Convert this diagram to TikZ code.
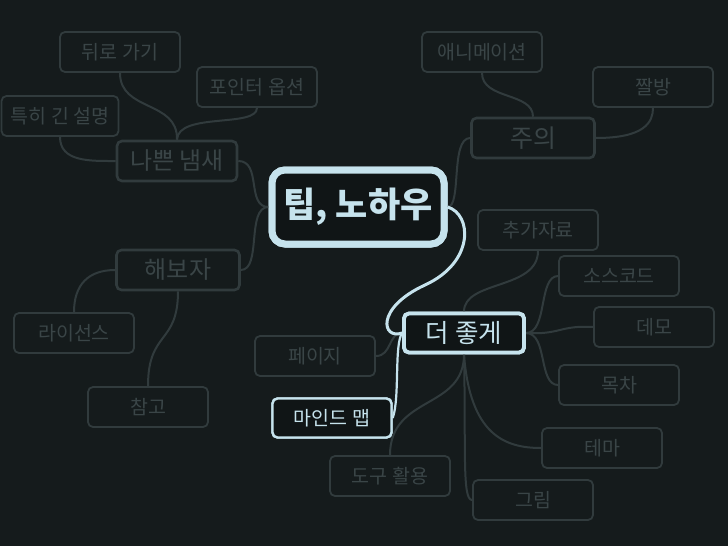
\documentclass[tikz,border=0pt]{standalone}
\usepackage{fontspec}
\setmainfont{Noto Sans CJK KR}
\definecolor{bg}{HTML}{151B1C}
\definecolor{dimline}{HTML}{313B3D}
\definecolor{dimtext}{HTML}{3A4547}
\definecolor{lite}{HTML}{C6E3ED}
\definecolor{corefill}{HTML}{101516}
\tikzset{
  leaf/.style={draw=dimline, line width=1.8pt, rounded corners=5pt, text=dimtext,
    minimum width=120pt, minimum height=40pt, inner sep=0pt, font=\fontsize{19.5}{21}\selectfont},
  mid/.style={draw=dimline, line width=2.6pt, rounded corners=5pt, text=dimtext,
    minimum width=120pt, minimum height=40pt, inner sep=0pt, font=\fontsize{24}{26}\selectfont},
  core/.style={draw=lite, fill=corefill, line width=7pt, rounded corners=13pt, text=lite,
    minimum width=172pt, minimum height=74pt, inner sep=0pt, font=\fontsize{35}{38}\selectfont\bfseries},
  better/.style={draw=lite, fill=corefill, line width=3.8pt, rounded corners=5pt, text=lite,
    minimum width=120pt, minimum height=39pt, inner sep=0pt, font=\fontsize{25.5}{27}\selectfont},
  litleaf/.style={draw=lite, fill=corefill, line width=2.4pt, rounded corners=5pt, text=lite,
    minimum width=119pt, minimum height=39pt, inner sep=0pt, font=\fontsize{19.5}{21}\selectfont},
  conn/.style={draw=dimline, line width=2pt},
  litconn/.style={draw=lite, line width=3pt},
  litconnthin/.style={draw=lite, line width=2.2pt}
}
\begin{document}
\begin{tikzpicture}[x=1pt, y=-1pt]
\fill[bg] (0,0) rectangle (728,546);
\useasboundingbox (0,0) rectangle (728,546);
% nodes
\node[leaf] (back) at (120,52) {뒤로 가기};
\node[leaf] (ptr) at (257,87) {포인터 옵션};
\node[leaf, minimum width=117pt] (long) at (60,116) {특히 긴 설명};
\node[mid] (nb) at (177,161) {나쁜 냄새};
\node[mid, minimum width=123pt] (hb) at (178,270) {해보자};
\node[leaf] (lic) at (74,333) {라이선스};
\node[leaf] (ref) at (148,407) {참고};
\node[leaf] (ani) at (482,52) {애니메이션};
\node[leaf] (jj) at (653,87) {짤방};
\node[mid, minimum width=123pt, font=\fontsize{25}{27}\selectfont] (ju) at (533,138) {주의};
\node[leaf] (add) at (538,230) {추가자료};
\node[leaf] (src) at (619,276) {소스코드};
\node[leaf] (demo) at (654,327) {데모};
\node[leaf] (page) at (315,356) {페이지};
\node[leaf] (tool) at (390,476) {도구 활용};
\node[leaf] (toc) at (619,385) {목차};
\node[leaf] (theme) at (602,448) {테마};
\node[leaf] (fig) at (533,500) {그림};
% dim connectors
\draw[conn] (back.south) .. controls (120,112) and (178,100) .. (nb.north);
\draw[conn] (ptr.south) .. controls (257,128) and (178,112) .. (nb.north);
\draw[conn] (long.south) .. controls (60,162) and (90,161) .. (nb.west);
\draw[conn] (hb.west) .. controls (88,270) and (74,285) .. (lic.north);
\draw[conn] (hb.south) .. controls (178,345) and (148,330) .. (ref.north);
\draw[conn] (ju.north) .. controls (533,92) and (482,100) .. (ani.south);
\draw[conn] (ju.east) .. controls (645,138) and (653,122) .. (jj.south);
% core and main nodes
\node[core] (tip) at (358,207) {팁, 노하우};
\node[better] (bt) at (464,333) {더 좋게};
\node[litleaf] (mind) at (332,418) {마인드 맵};
\draw[conn] (nb.east) .. controls (262,161) and (246,207) .. (tip.west);
\draw[conn] (hb.east) .. controls (262,270) and (246,207) .. (tip.west);
\draw[conn] (tip.east) .. controls (462,207) and (450,138) .. (ju.west);
\draw[conn] (bt.north) .. controls (464,280) and (538,290) .. (add.south);
\draw[conn] (bt.east) .. controls (548,333) and (538,276) .. (src.west);
\draw[conn] (bt.east) .. controls (560,335) and (560,325) .. (demo.west);
\draw[conn] (bt.east) .. controls (548,333) and (538,385) .. (toc.west);
\draw[conn] (bt.west) .. controls (388,333) and (392,356) .. (page.east);
\draw[conn] (bt.south) .. controls (464,410) and (390,395) .. (tool.north);
\draw[conn] (bt.south) .. controls (470,435) and (505,448) .. (theme.west);
\draw[conn] (bt.south) .. controls (466,450) and (462,500) .. (fig.west);
\draw[litconn] (tip.east) .. controls (472,214) and (475,262) .. (425,285)
  .. controls (375,308) and (382,340) .. (bt.west);
\draw[litconnthin] (bt.west) .. controls (394,345) and (400,398) .. (mind.east);
% redraw main nodes on top of connectors
\node[core] at (tip) {팁, 노하우};
\node[better] at (bt) {더 좋게};
\node[litleaf] at (mind) {마인드 맵};
\end{tikzpicture}
\end{document}
